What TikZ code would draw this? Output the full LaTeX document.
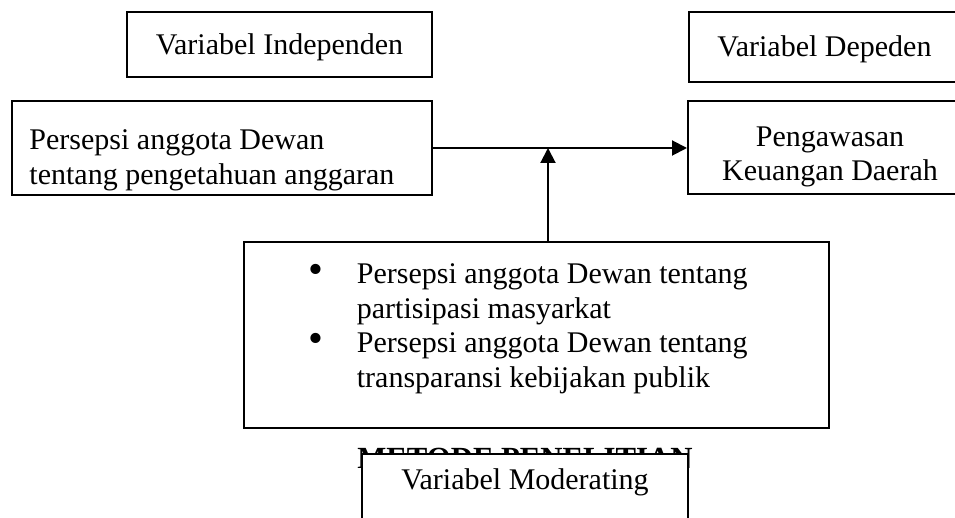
\documentclass[tikz,border=0pt]{standalone}
\usepackage{fontspec}
\setmainfont{Liberation Serif}
\usetikzlibrary{arrows.meta}

\begin{document}
\begin{tikzpicture}[
  x=0.4pt, y=-0.4pt,
  block/.style={rectangle, draw, line width=0.8pt, fill=white, inner sep=0pt, font=\fontsize{12}{13.8}\selectfont},
  link/.style={-{Triangle[length=6pt,width=6pt]}, line width=0.8pt}
]
\useasboundingbox (0,0) rectangle (955,518);
\clip (0,0) rectangle (955,518);

% header boxes
\node[block, minimum width=122pt, minimum height=26pt, text height=10.6pt, text depth=2.6pt] (indep) at (279.5,44.5) {Variabel Independen};
\node[block, minimum width=108.4pt, minimum height=28pt, text height=10.6pt, text depth=2.6pt] (dep) at (824.5,47) {Variabel Depeden};

% main variables
\node[block, minimum width=168pt, minimum height=37.6pt, text width=154pt, inner xsep=7pt, align=flush left] (pers) at (222,148)
  {\rule{0pt}{17.8pt}Persepsi anggota Dewan\\tentang pengetahuan anggaran};
\node[block, minimum width=113.6pt, minimum height=37.2pt, align=center] (peng) at (830,147.5)
  {\rule{0pt}{15.2pt}Pengawasan\\Keuangan Daerah};

% moderating variables
\node[block, minimum width=234pt, minimum height=74.4pt] (list) at (536.5,335)
  {\begin{tabular}{@{}p{17pt}@{}l@{}}
   \hspace*{-2.5pt}{\fontsize{17}{13.8}\selectfont\textbullet} & Persepsi anggota Dewan tentang\\
   & partisipasi masyarkat\\
   \hspace*{-2.5pt}{\fontsize{17}{13.8}\selectfont\textbullet} & Persepsi anggota Dewan tentang\\
   & transparansi kebijakan publik\\[5pt]
   \end{tabular}\hspace*{4.4pt}};

\node[font=\bfseries\fontsize{12.3}{14}\selectfont, anchor=base] (metode) at (525,469) {METODE PENELITIAN};
\node[block, anchor=north, minimum width=130.4pt, text height=8.3pt, text depth=30pt, inner ysep=6pt] (mod) at (525,453)
  {Variabel Moderating};

\coordinate (meet) at (548,148);
\draw[link] (pers.east |- meet) -- (peng.west |- meet);
\draw[link] (list.north -| meet) -- (meet);
\end{tikzpicture}
\end{document}
